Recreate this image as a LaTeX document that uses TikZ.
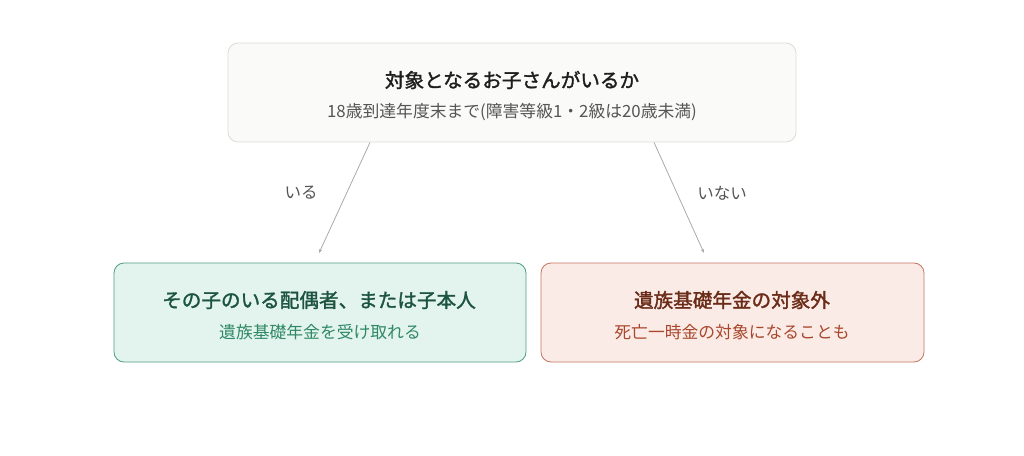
\documentclass[tikz,border=0pt]{standalone}
\usepackage{fontspec}
\setmainfont{Noto Sans CJK JP}
\newfontfamily\jp{Noto Sans CJK JP}
\newfontfamily\jpm{Noto Sans CJK JP}[FakeBold=1.6]
\usetikzlibrary{arrows.meta}
\definecolor{topfill}{HTML}{FAFAF8}
\definecolor{topdraw}{HTML}{DCDCDA}
\definecolor{topttl}{HTML}{1E1E1E}
\definecolor{topsub}{HTML}{555555}
\definecolor{gfill}{HTML}{E3F4EE}
\definecolor{gdraw}{HTML}{4E9E80}
\definecolor{gttl}{HTML}{1C5440}
\definecolor{gsub}{HTML}{2F8866}
\definecolor{rfill}{HTML}{FBEBE6}
\definecolor{rdraw}{HTML}{C4745E}
\definecolor{rttl}{HTML}{6A2C18}
\definecolor{rsub}{HTML}{A9472D}
\definecolor{conn}{HTML}{AAAAAA}
\definecolor{lbl}{HTML}{555555}
\tikzset{
  box/.style={draw, rounded corners=10pt, line width=0.8pt, inner sep=0pt},
  ttl/.style={font=\jpm\fontsize{19.6}{23}\selectfont, inner sep=0pt},
  sub/.style={font=\jp\fontsize{16.8}{20}\selectfont, inner sep=0pt},
  conlbl/.style={font=\jp\fontsize{16.5}{19}\selectfont, text=lbl, inner sep=0pt},
  conline/.style={draw=conn, line width=0.8pt, -{Stealth[length=4pt,width=3pt]}}
}
\begin{document}
\begin{tikzpicture}[x=1pt,y=-1pt]
\useasboundingbox[fill=white] (0,0) rectangle (1024,455);
% top box
\node[box, draw=topdraw, fill=topfill, minimum width=568pt, minimum height=99pt] (top) at (512,92.5) {};
\node[ttl, text=topttl] (topt) at (512,80) {対象となるお子さんがいるか};
\node[sub, text=topsub] (tops) at (512,112) {18歳到達年度末まで(障害等級1・2級は20歳未満)};
% left box
\node[box, draw=gdraw, fill=gfill, minimum width=412pt, minimum height=99pt] (left) at (320,312.5) {};
\node[ttl, text=gttl] (leftt) at (319,300) {その子のいる配偶者、または子本人};
\node[sub, text=gsub] (lefts) at (320,332) {遺族基礎年金を受け取れる};
% right box
\node[box, draw=rdraw, fill=rfill, minimum width=383pt, minimum height=99pt] (right) at (732.5,312.5) {};
\node[ttl, text=rttl] (rightt) at (732,300) {遺族基礎年金の対象外};
\node[sub, text=rsub] (rights) at (732,332) {死亡一時金の対象になることも};
% connectors
\coordinate (le) at (319,253);
\coordinate (re) at (704,253);
\draw[conline] ([xshift=-142pt]top.south) -- (le);
\draw[conline] ([xshift=142pt]top.south) -- (re);
\node[conlbl] (lbl1) at (301,193) {いる};
\node[conlbl] (lbl2) at (722,193) {いない};
\end{tikzpicture}
\end{document}
